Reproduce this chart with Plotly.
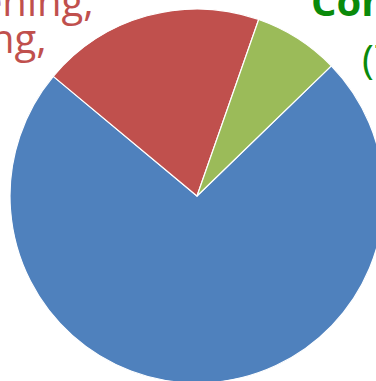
import plotly.graph_objects as go

labels = ["Treatment", "Screening, Testing", "Control"]
values = [73.3, 19.3, 7.4]
colors = ["#4F81BD", "#C0504D", "#9BBB59"]

W, H = 394, 392
cx, cy, r = 197, 196, 187

fig = go.Figure(go.Pie(
    labels=labels, values=values, sort=False, direction="clockwise",
    rotation=45.9, textinfo="none", hoverinfo="label+percent",
    marker=dict(colors=colors, line=dict(color="white", width=1.2)),
    domain=dict(x=[(cx - r) / W, (cx + r) / W], y=[(H - cy - r) / H, (H - cy + r) / H]),
    showlegend=False,
))

def px(x, y):
    return x / W, 1 - y / H

anns = [
    ("Screening,", 96, 1, "right", "#C0504D", False),
    ("Testing,", 49, 38, "right", "#C0504D", False),
    ("Control", 309, 0, "left", "#0A8A0A", True),
    ("(7%)", 360, 58, "left", "#0A8A0A", False),
]
for t, x, y, anc, col, bold in anns:
    ax, ay = px(x, y)
    fig.add_annotation(
        text=f"<b>{t}</b>" if bold else t, x=ax, y=ay, xref="paper", yref="paper",
        xanchor=anc, yanchor="middle", showarrow=False,
        font=dict(family="Open Sans", size=40, color=col),
    )

fig.update_layout(width=W, height=H, margin=dict(l=0, r=0, t=0, b=0),
                  paper_bgcolor="white", plot_bgcolor="white")
fig.write_html("out.html")
